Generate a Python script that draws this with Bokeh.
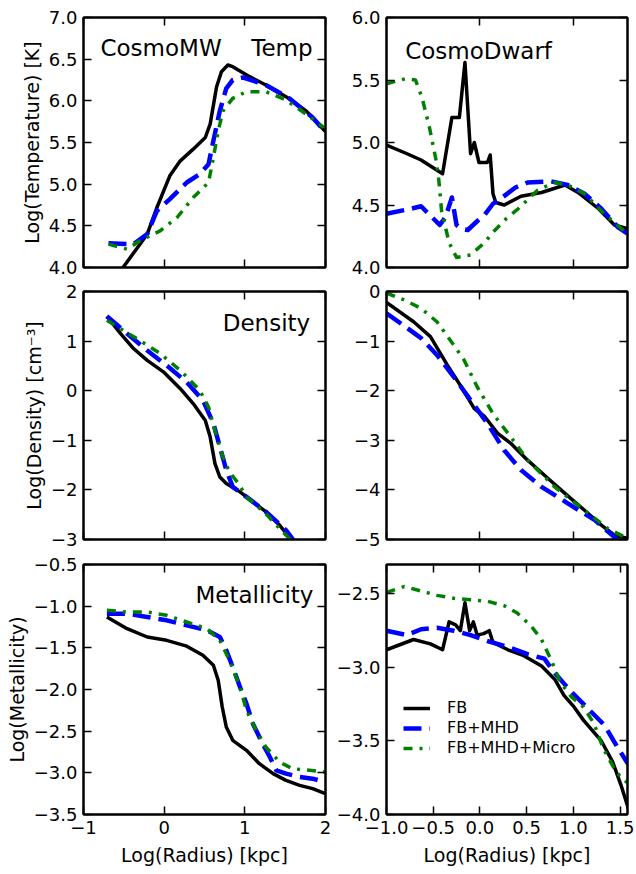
from bokeh.plotting import figure
from bokeh.layouts import column, row
from bokeh.models import (Range1d, LinearAxis, FixedTicker, Label, Legend,
                          LegendItem, CustomJSTickFormatter)
from bokeh.embed import file_html
from bokeh.resources import INLINE

FONT = "DejaVu Sans"

# ---------------- data (log radius [kpc] vs quantity) ----------------
# CosmoMW temperature
mw_temp_r_fb = [-0.72, -0.51, -0.21, -0.09, 0.07, 0.20, 0.36, 0.51, 0.57, 0.65, 0.71, 0.79, 0.85, 1.06, 1.26, 1.51, 1.76, 2.0]
mw_temp_fb = [3.72, 4.00, 4.40, 4.72, 5.10, 5.28, 5.42, 5.56, 5.72, 6.17, 6.35, 6.43, 6.41, 6.29, 6.19, 6.05, 5.88, 5.63]
mw_temp_r_mhd = [-0.69, -0.38, -0.21, -0.09, 0.07, 0.28, 0.44, 0.55, 0.61, 0.69, 0.77, 0.85, 0.98, 1.26, 1.55, 1.84, 1.95]
mw_temp_mhd = [4.29, 4.28, 4.40, 4.68, 4.82, 5.02, 5.12, 5.24, 5.52, 5.88, 6.15, 6.25, 6.28, 6.19, 6.03, 5.80, 5.68]
mw_temp_r_micro = [-0.69, -0.46, -0.30, -0.05, 0.16, 0.36, 0.55, 0.61, 0.67, 0.73, 0.85, 1.02, 1.26, 1.51, 1.76, 1.98]
mw_temp_micro = [4.28, 4.22, 4.32, 4.44, 4.60, 4.84, 5.02, 5.32, 5.64, 5.88, 6.03, 6.11, 6.11, 6.01, 5.84, 5.68]

# CosmoDwarf temperature
dw_temp_r_fb = [-1.0, -0.78, -0.63, -0.40, -0.30, -0.22, -0.16, -0.10, -0.06, -0.01, 0.08, 0.11, 0.14, 0.17, 0.26, 0.44, 0.66, 0.91, 1.05, 1.27, 1.44, 1.58]
dw_temp_fb = [4.98, 4.91, 4.86, 4.75, 5.20, 5.20, 5.64, 4.91, 5.00, 4.84, 4.84, 4.90, 4.59, 4.52, 4.50, 4.57, 4.60, 4.66, 4.60, 4.47, 4.34, 4.31]
dw_temp_r_mhd = [-1.0, -0.74, -0.63, -0.43, -0.37, -0.30, -0.25, -0.20, -0.13, -0.03, 0.05, 0.14, 0.24, 0.38, 0.51, 0.76, 0.94, 1.12, 1.30, 1.48, 1.58]
dw_temp_mhd = [4.43, 4.47, 4.49, 4.34, 4.40, 4.56, 4.34, 4.31, 4.30, 4.37, 4.42, 4.51, 4.56, 4.64, 4.68, 4.69, 4.66, 4.59, 4.47, 4.32, 4.27]
dw_temp_r_micro = [-1.0, -0.80, -0.69, -0.62, -0.54, -0.47, -0.44, -0.41, -0.33, -0.25, -0.10, 0.05, 0.15, 0.28, 0.41, 0.62, 0.80, 0.94, 1.12, 1.33, 1.58]
dw_temp_micro = [5.47, 5.51, 5.50, 5.36, 5.12, 4.86, 4.70, 4.45, 4.20, 4.08, 4.10, 4.20, 4.29, 4.39, 4.47, 4.62, 4.68, 4.66, 4.59, 4.43, 4.27]

# CosmoMW density
mw_dens_r_fb = [-0.71, -0.54, -0.38, -0.21, -0.01, 0.20, 0.36, 0.51, 0.57, 0.63, 0.69, 0.77, 0.94, 1.10, 1.26, 1.43, 1.55, 1.62]
mw_dens_fb = [1.50, 1.15, 0.85, 0.61, 0.38, 0.04, -0.26, -0.60, -0.93, -1.47, -1.74, -1.87, -2.04, -2.24, -2.44, -2.71, -2.95, -3.10]
mw_dens_r_mhd = [-0.71, -0.46, -0.21, 0.03, 0.28, 0.48, 0.61, 0.69, 0.77, 0.85, 1.02, 1.26, 1.51, 1.62]
mw_dens_mhd = [1.50, 1.15, 0.81, 0.51, 0.17, -0.19, -0.66, -1.13, -1.60, -1.94, -2.14, -2.44, -2.81, -3.05]
mw_dens_r_micro = [-0.71, -0.54, -0.30, -0.05, 0.20, 0.44, 0.55, 0.65, 0.73, 0.81, 0.92, 1.02, 1.26, 1.47, 1.60]
mw_dens_micro = [1.42, 1.25, 1.01, 0.75, 0.41, 0.01, -0.33, -0.93, -1.34, -1.64, -1.87, -2.14, -2.48, -2.85, -3.05]

# CosmoDwarf density
dw_dens_r_fb = [-1.0, -0.71, -0.53, -0.35, -0.20, -0.06, 0.05, 0.19, 0.33, 0.51, 0.73, 0.91, 1.12, 1.30, 1.44, 1.58]
dw_dens_fb = [-0.22, -0.61, -0.91, -1.48, -1.92, -2.36, -2.52, -2.86, -3.06, -3.40, -3.77, -4.07, -4.41, -4.71, -4.91, -4.98]
dw_dens_r_mhd = [-1.0, -0.85, -0.63, -0.46, -0.28, -0.10, 0.08, 0.26, 0.44, 0.66, 0.94, 1.23, 1.44, 1.50]
dw_dens_mhd = [-0.44, -0.64, -0.94, -1.28, -1.72, -2.19, -2.66, -3.20, -3.60, -3.94, -4.27, -4.61, -4.95, -5.05]
dw_dens_r_micro = [-1.0, -0.81, -0.63, -0.46, -0.28, -0.17, -0.03, 0.15, 0.33, 0.51, 0.80, 1.09, 1.37, 1.58]
dw_dens_micro = [-0.03, -0.17, -0.34, -0.61, -1.08, -1.38, -1.92, -2.49, -2.93, -3.40, -3.94, -4.37, -4.78, -4.98]

# CosmoMW metallicity
mw_met_r_fb = [-0.71, -0.46, -0.21, 0.03, 0.28, 0.48, 0.61, 0.67, 0.72, 0.77, 0.85, 1.02, 1.18, 1.35, 1.51, 1.68, 1.84, 2.0]
mw_met_fb = [-1.13, -1.27, -1.37, -1.41, -1.48, -1.59, -1.71, -1.89, -2.21, -2.45, -2.61, -2.73, -2.89, -3.01, -3.09, -3.15, -3.19, -3.25]
mw_met_r_mhd = [-0.71, -0.46, -0.21, 0.03, 0.28, 0.53, 0.69, 0.77, 0.85, 0.94, 1.02, 1.10, 1.22, 1.31, 1.39, 1.51, 1.68, 1.84, 2.0]
mw_met_mhd = [-1.09, -1.09, -1.13, -1.17, -1.23, -1.29, -1.37, -1.53, -1.73, -1.97, -2.17, -2.41, -2.65, -2.81, -2.97, -3.01, -3.05, -3.07, -3.11]
mw_met_r_micro = [-0.71, -0.46, -0.21, 0.03, 0.28, 0.53, 0.69, 0.81, 0.94, 1.02, 1.14, 1.26, 1.43, 1.59, 1.80, 2.0]
mw_met_micro = [-1.05, -1.07, -1.07, -1.11, -1.19, -1.27, -1.41, -1.65, -1.97, -2.25, -2.49, -2.69, -2.87, -2.95, -2.97, -2.99]

# CosmoDwarf metallicity
dw_met_r_fb = [-1.0, -0.71, -0.53, -0.40, -0.33, -0.26, -0.21, -0.16, -0.11, -0.07, -0.03, 0.04, 0.10, 0.14, 0.30, 0.47, 0.66, 0.80, 0.90, 1.01, 1.11, 1.30, 1.42, 1.51, 1.59]
dw_met_fb = [-2.88, -2.81, -2.84, -2.88, -2.69, -2.71, -2.75, -2.56, -2.75, -2.69, -2.78, -2.77, -2.75, -2.83, -2.88, -2.92, -2.99, -3.08, -3.19, -3.27, -3.36, -3.50, -3.64, -3.80, -3.96]
dw_met_r_mhd = [-1.0, -0.78, -0.63, -0.46, -0.28, -0.10, 0.08, 0.30, 0.51, 0.69, 0.79, 0.97, 1.11, 1.22, 1.33, 1.48, 1.59]
dw_met_mhd = [-2.75, -2.78, -2.74, -2.73, -2.75, -2.78, -2.82, -2.86, -2.91, -2.94, -3.03, -3.16, -3.25, -3.32, -3.39, -3.55, -3.66]
dw_met_r_micro = [-1.0, -0.81, -0.63, -0.46, -0.28, -0.10, 0.08, 0.26, 0.40, 0.55, 0.66, 0.77, 0.86, 0.98, 1.11, 1.22, 1.32, 1.44, 1.50, 1.59]
dw_met_micro = [-2.49, -2.45, -2.48, -2.51, -2.53, -2.54, -2.55, -2.58, -2.63, -2.72, -2.81, -2.96, -3.10, -3.20, -3.27, -3.38, -3.55, -3.69, -3.74, -3.79]

series_names = ["FB", "FB+MHD", "FB+MHD+Micro"]

# ---------------- styling ----------------
STYLES = [
    dict(color="black", line_width=3.5, line_dash="solid"),
    dict(color="#0000ff", line_width=4.5, line_dash="18 8"),
    dict(color="#008000", line_width=3.5, line_dash="9 7 3 7"),
]


def num_fmt(d):
    return CustomJSTickFormatter(args=dict(d=d),
                                 code="return tick.toFixed(d).replace('-', '\\u2212');")


def blank_fmt():
    return CustomJSTickFormatter(code="return '';")


def make_panel(w, h, borders, xr, yr, xt, yt, xd, yd, show_x, ylabel=None, xlabel=None):
    bl, br, bt, bb = borders
    p = figure(width=w, height=h, x_range=Range1d(*xr), y_range=Range1d(*yr),
               output_backend="svg", toolbar_location=None, tools="",
               min_border_left=bl, min_border_right=br, min_border_top=bt,
               min_border_bottom=bb, x_axis_location=None, y_axis_location=None)
    p.grid.visible = False
    p.outline_line_color = "black"
    p.outline_line_width = 2
    p.outline_line_alpha = 1
    p.background_fill_color = "white"
    p.border_fill_color = "white"
    for loc in ("below", "above", "left", "right"):
        is_x = loc in ("below", "above")
        ax = LinearAxis(ticker=FixedTicker(ticks=xt if is_x else yt))
        shown = (loc == "below" and show_x) or loc == "left"
        ax.axis_line_color = "black"
        ax.axis_line_width = 2
        ax.major_tick_in = 8
        ax.major_tick_out = 0
        ax.major_tick_line_width = 1.5
        ax.major_tick_line_color = "black"
        ax.minor_tick_line_color = None
        ax.major_label_text_font = FONT
        ax.major_label_text_color = "black"
        if shown:
            ax.formatter = num_fmt(xd if is_x else yd)
            ax.major_label_text_font_size = "18px"
            ax.major_label_standoff = 6
        else:
            ax.formatter = blank_fmt()
            ax.major_label_text_font_size = "0px"
            ax.major_label_standoff = 0
        ax.axis_label_text_font = FONT
        ax.axis_label_text_font_size = "19px"
        ax.axis_label_text_font_style = "normal"
        ax.axis_label_text_color = "black"
        if loc == "left" and ylabel:
            ax.axis_label = ylabel
            ax.axis_label_standoff = 3
        if loc == "below" and xlabel:
            ax.axis_label = xlabel
            ax.axis_label_standoff = 7
        p.add_layout(ax, loc)
    return p


def add_lines(p, rs, ys):
    rends = []
    for r, y, st in zip(rs, ys, STYLES):
        rends.append(p.line(r, y, line_join="round", **st))
    return rends


def add_text(p, x, y, text, align):
    p.add_layout(Label(x=x, y=y, text=text, text_font=FONT, text_font_size="23px",
                       text_align=align, text_baseline="alphabetic", text_color="black"))


LW, RW = 333, 303
rows_b = [(17, 12, 279), (12, 12, 272), (13, 60, 323)]

x_left = (-1, 2)
x_right = (-1, 1.58)
xt_left = [-1, 0, 1, 2]
xt_right_up = [-1, 0, 1]
xt_right_low = [-1.0, -0.5, 0.0, 0.5, 1.0, 1.5]

# Row 1: temperature
t, b, h = rows_b[0]
p1 = make_panel(LW, h, (83, 8, t, b), x_left, (4, 7), xt_left,
                [4.0, 4.5, 5.0, 5.5, 6.0, 6.5, 7.0], 0, 1, False,
                ylabel="Log(Temperature) [K]")
add_lines(p1, [mw_temp_r_fb, mw_temp_r_mhd, mw_temp_r_micro], [mw_temp_fb, mw_temp_mhd, mw_temp_micro])
add_text(p1, -0.79, 6.63, "CosmoMW", "left")
add_text(p1, 1.84, 6.63, "Temp", "right")

p2 = make_panel(RW, h, (53, 9, t, b), x_right, (4, 6), xt_right_up,
                [4.0, 4.5, 5.0, 5.5, 6.0], 0, 1, False)
add_lines(p2, [dw_temp_r_fb, dw_temp_r_mhd, dw_temp_r_micro], [dw_temp_fb, dw_temp_mhd, dw_temp_micro])
add_text(p2, -0.80, 5.735, "CosmoDwarf", "left")

# Row 2: density
t, b, h = rows_b[1]
p3 = make_panel(LW, h, (83, 8, t, b), x_left, (-3, 2), xt_left,
                [-3, -2, -1, 0, 1, 2], 0, 0, False,
                ylabel="Log(Density) [cm\u207b\u00b3]")
add_lines(p3, [mw_dens_r_fb, mw_dens_r_mhd, mw_dens_r_micro], [mw_dens_fb, mw_dens_mhd, mw_dens_micro])
add_text(p3, 1.81, 1.36, "Density", "right")

p4 = make_panel(RW, h, (53, 9, t, b), x_right, (-5, 0), xt_right_up,
                [-5, -4, -3, -2, -1, 0], 0, 0, False)
add_lines(p4, [dw_dens_r_fb, dw_dens_r_mhd, dw_dens_r_micro], [dw_dens_fb, dw_dens_mhd, dw_dens_micro])

# Row 3: metallicity
t, b, h = rows_b[2]
p5 = make_panel(LW, h, (83, 8, t, b), x_left, (-3.5, -0.5), xt_left,
                [-3.5, -3.0, -2.5, -2.0, -1.5, -1.0, -0.5], 0, 1, True,
                ylabel="Log(Metallicity)", xlabel="Log(Radius) [kpc]")
add_lines(p5, [mw_met_r_fb, mw_met_r_mhd, mw_met_r_micro], [mw_met_fb, mw_met_mhd, mw_met_micro])
add_text(p5, 1.85, -0.87, "Metallicity", "right")

p6 = make_panel(RW, h, (53, 9, t, b), x_right, (-4.0, -2.3), xt_right_low,
                [-4.0, -3.5, -3.0, -2.5], 1, 1, True,
                xlabel="Log(Radius) [kpc]")
r6 = add_lines(p6, [dw_met_r_fb, dw_met_r_mhd, dw_met_r_micro], [dw_met_fb, dw_met_mhd, dw_met_micro])

legend = Legend(items=[LegendItem(label=n, renderers=[r]) for n, r in zip(series_names, r6)],
                location=(17, 57), label_text_font=FONT, label_text_font_size="16px",
                label_text_color="black",
                glyph_width=27, glyph_height=18, label_height=18, spacing=1,
                padding=0, margin=0, label_standoff=17,
                border_line_alpha=0, background_fill_alpha=0)
p6.add_layout(legend)

layout = column(row(p1, p2), row(p3, p4), row(p5, p6))

open("out.html", "w").write(file_html(layout, INLINE))
